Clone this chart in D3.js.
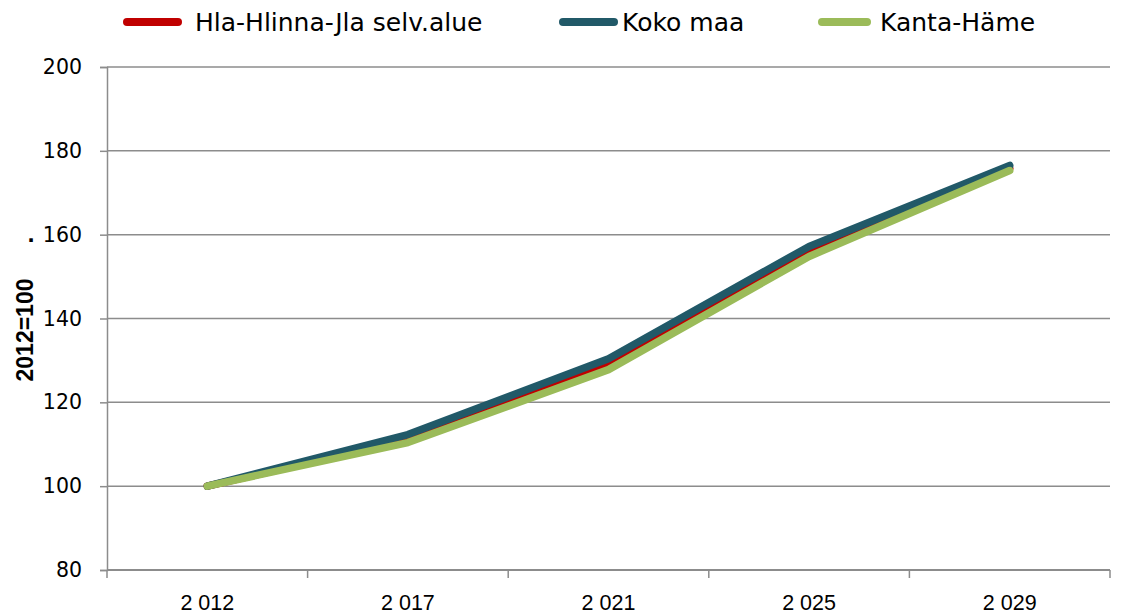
<!DOCTYPE html>
<html><head><meta charset="utf-8">
<script src="https://cdn.jsdelivr.net/npm/d3@7/dist/d3.min.js"></script>
<style>body{margin:0;background:#fff;}svg{display:block;}</style>
</head><body>
<script>
const years = ["2 012", "2 017", "2 021", "2 025", "2 029"];
const hlaValues = [100, 111.0, 128.8, 155.8, 175.8];
const kokoValues = [100, 112.3, 130.4, 157.2, 176.5];
const kantaValues = [100, 110.4, 127.8, 154.8, 175.3];
const yTicks = [80, 100, 120, 140, 160, 180, 200];
const seriesNames = ["Hla-Hlinna-Jla selv.alue", "Koko maa", "Kanta-Häme"];
const seriesColors = ["#C00000", "#215968", "#9BBB59"];
const series = [
  {name: seriesNames[0], values: hlaValues, color: seriesColors[0]},
  {name: seriesNames[1], values: kokoValues, color: seriesColors[1]},
  {name: seriesNames[2], values: kantaValues, color: seriesColors[2]}
];

const W = 1123, H = 616;
const L = 107, R = 1110, T = 67, B = 570;
const svg = d3.select("body").append("svg").attr("width", W).attr("height", H);

const x = d3.scaleBand().domain(years).range([L, R]);
const y = d3.scaleLinear().domain([80, 200]).range([B, T]);

// gridlines
svg.append("g").selectAll("line").data(yTicks.filter(d => d > 80)).join("line")
  .attr("x1", L).attr("x2", R).attr("y1", d => y(d)).attr("y2", d => y(d))
  .attr("stroke", "#8c8c8c").attr("stroke-width", 1.5);

// y axis
const yAxis = svg.append("g").attr("transform", `translate(${L},0)`)
  .call(d3.axisLeft(y).tickValues(yTicks).tickSize(7).tickPadding(18));
yAxis.select(".domain").attr("stroke", "#8c8c8c").attr("stroke-width", 1.5);
yAxis.selectAll(".tick line").attr("stroke", "#8c8c8c").attr("stroke-width", 1.5);
yAxis.selectAll("text").attr("font-family", "'DejaVu Sans', sans-serif")
  .attr("font-size", 20.5).attr("fill", "#000");

// x axis
const xAxis = svg.append("g").attr("transform", `translate(0,${B})`)
  .call(d3.axisBottom(x).tickSize(0).tickPadding(0));
xAxis.select(".domain").remove();
xAxis.selectAll(".tick line").remove();
xAxis.selectAll("text").attr("font-family", "'Liberation Sans', Arial, sans-serif")
  .attr("font-size", 21.5).attr("fill", "#000").attr("dy", null).attr("y", 40);
svg.append("line").attr("x1", L).attr("x2", R).attr("y1", B).attr("y2", B)
  .attr("stroke", "#8c8c8c").attr("stroke-width", 2);
const bounds = years.map(d => x(d)).concat([R]);
svg.append("g").selectAll("line").data(bounds).join("line")
  .attr("x1", d => d).attr("x2", d => d).attr("y1", B).attr("y2", B + 8)
  .attr("stroke", "#8c8c8c").attr("stroke-width", 1.5);

// lines
const line = d3.line().x((d, i) => x(years[i]) + x.bandwidth() / 2).y(d => y(d));
svg.append("g").selectAll("path").data(series).join("path")
  .attr("d", d => line(d.values)).attr("fill", "none")
  .attr("stroke", d => d.color).attr("stroke-width", 7.5)
  .attr("stroke-linejoin", "round").attr("stroke-linecap", "round");

// y title
svg.append("text").attr("transform", "translate(33,330) rotate(-90)")
  .attr("text-anchor", "middle").attr("font-family", "'Liberation Sans', Arial, sans-serif")
  .attr("font-weight", "bold").attr("font-size", 23).text("2012=100");
svg.append("text").attr("x", 31).attr("y", 242).attr("text-anchor", "middle")
  .attr("font-family", "'DejaVu Sans', sans-serif").attr("font-weight", "bold")
  .attr("font-size", 20).text(".");

// legend
const legLineX = [127, 563, 822];
const legLineLen = [51, 51, 45];
const legTextX = [195, 622, 880];
const leg = svg.append("g").selectAll("g").data(series).join("g");
leg.append("line").attr("x1", (d, i) => legLineX[i]).attr("x2", (d, i) => legLineX[i] + legLineLen[i])
  .attr("y1", 22).attr("y2", 22)
  .attr("stroke", d => d.color).attr("stroke-width", 8).attr("stroke-linecap", "round");
leg.append("text").attr("x", (d, i) => legTextX[i]).attr("y", 31)
  .attr("font-family", "'DejaVu Sans', sans-serif")
  .attr("font-size", 25).attr("fill", "#000").text(d => d.name);
</script>
</body></html>
